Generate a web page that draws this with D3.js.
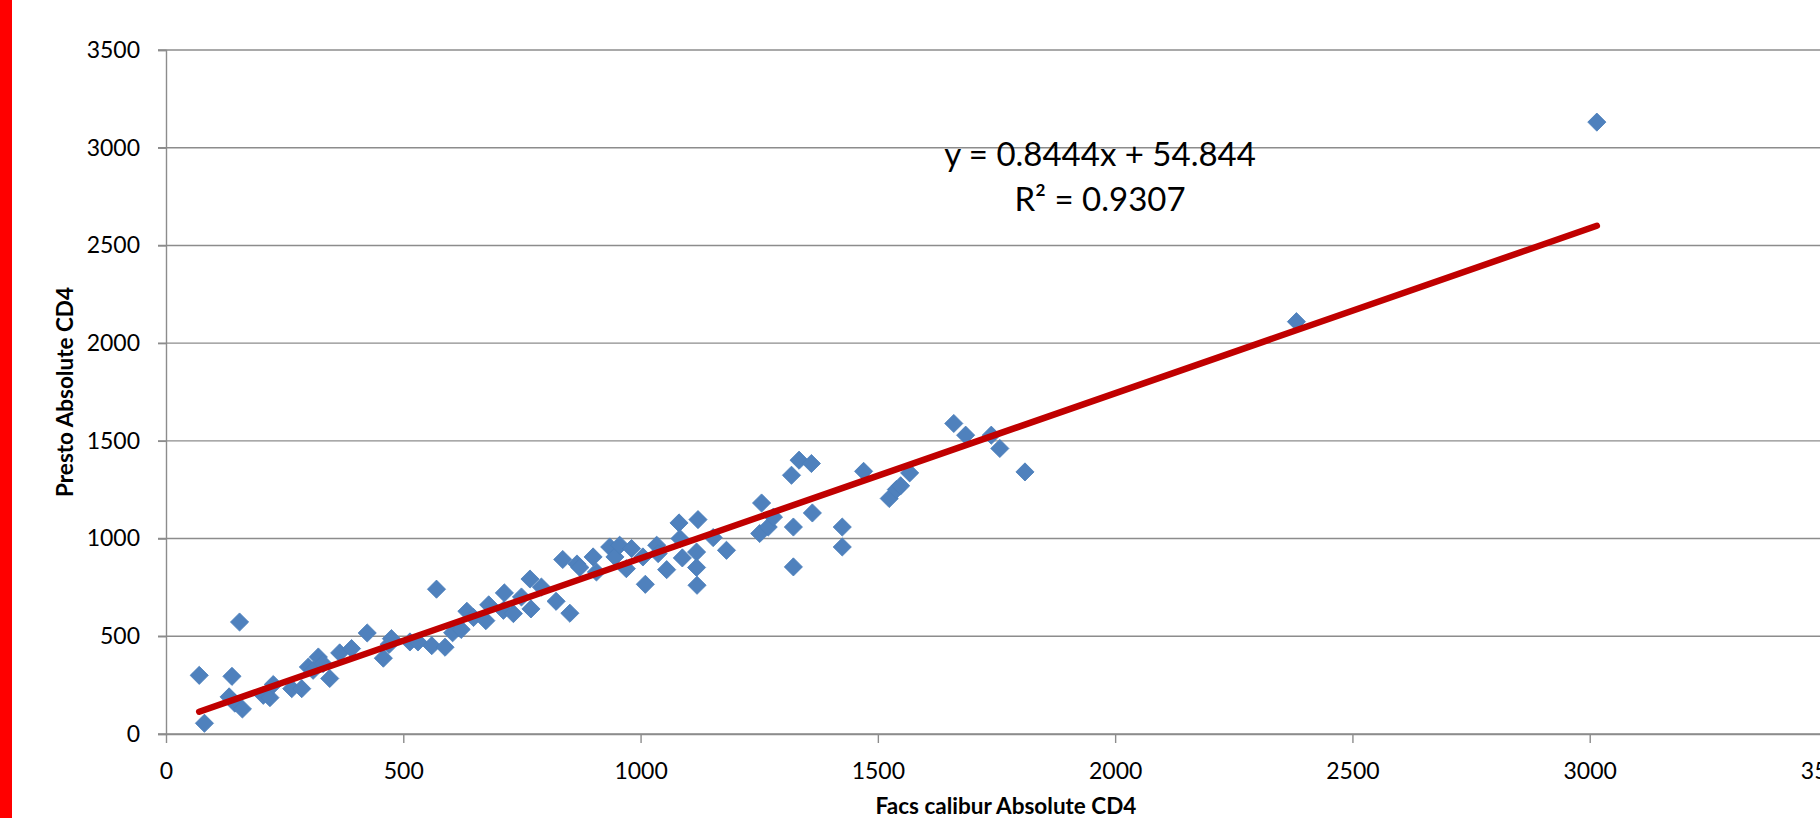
<!DOCTYPE html>
<html>
<head>
<meta charset="utf-8">
<script src="https://cdn.jsdelivr.net/npm/d3@7"></script>
<style>
  body { margin: 0; background: #fff; overflow: hidden; }
  text { font-family: Lato, "Open Sans", sans-serif; fill: #000; }
</style>
</head>
<body>
<div id="chart"></div>
<script>
// Facs calibur vs Presto absolute CD4 counts
const facs = [70, 81, 133, 139, 145, 155, 161, 205, 219, 226, 265, 286, 300, 310, 321, 331, 345, 366, 391, 424,
  458, 470, 475, 514, 531, 560, 570, 588, 604, 622, 634, 648, 674, 680, 711, 713, 732, 749, 767, 769,
  791, 822, 851, 836, 866, 872, 900, 907, 935, 946, 956, 970, 981, 1005, 1010, 1034, 1037, 1055, 1081, 1083,
  1088, 1121, 1118, 1118, 1119, 1153, 1181, 1255, 1251, 1269, 1280, 1322, 1322, 1318, 1334, 1360, 1362, 1425, 1425, 1470,
  1524, 1539, 1548, 1567, 1660, 1685, 1739, 1757, 1810, 2382, 3015];
const presto = [300, 55, 190, 295, 158, 573, 128, 198, 186, 253, 232, 232, 343, 326, 394, 360, 284, 415, 437, 517,
  388, 458, 488, 471, 471, 452, 741, 444, 518, 535, 628, 596, 580, 661, 633, 722, 616, 701, 793, 640,
  752, 679, 618, 893, 870, 852, 906, 829, 957, 906, 966, 846, 949, 906, 766, 966, 923, 841, 1080, 1000,
  901, 1097, 931, 852, 761, 1005, 940, 1182, 1026, 1059, 1110, 1059, 855, 1324, 1401, 1384, 1131, 1059, 957, 1344,
  1205, 1251, 1270, 1336, 1589, 1529, 1529, 1461, 1341, 2110, 3131];

const slope = 0.8444, intercept = 54.844;
const equationLines = ["y = 0.8444x + 54.844", "R² = 0.9307"];
const ticks = [0, 500, 1000, 1500, 2000, 2500, 3000, 3500];

const W = 1820, H = 818;
const margin = {top: 50, left: 166, bottom: 84};

const svg = d3.select("#chart").append("svg")
  .attr("width", W)
  .attr("height", H);

const x = d3.scaleLinear().domain([0, 3500]).range([margin.left, 1827]);
const y = d3.scaleLinear().domain([0, 3500]).range([H - margin.bottom, margin.top]);

// red strip on the left edge
svg.append("rect")
  .attr("x", 0).attr("y", 0)
  .attr("width", 12).attr("height", H)
  .attr("fill", "#ff0000");

// horizontal gridlines
svg.append("g")
  .selectAll("line")
  .data(ticks)
  .enter().append("line")
    .attr("x1", margin.left - 8)
    .attr("x2", W)
    .attr("y1", d => y(d))
    .attr("y2", d => y(d))
    .attr("stroke", "#8c8c8c")
    .attr("stroke-width", 1.4);

// y axis
const yAxis = svg.append("g")
  .attr("transform", "translate(" + margin.left + ",0)")
  .call(d3.axisLeft(y).tickValues(ticks).tickFormat(d3.format("d")).tickSize(8).tickPadding(18));
yAxis.select(".domain").attr("stroke", "#8c8c8c").attr("stroke-width", 1.4);
yAxis.selectAll(".tick line").attr("stroke", "#8c8c8c").attr("stroke-width", 1.4);
yAxis.selectAll("text").style("font-size", "23px").style("font-family", "Lato");

// x axis
const xAxis = svg.append("g")
  .attr("transform", "translate(0," + y(0) + ")")
  .call(d3.axisBottom(x).tickValues(ticks).tickFormat(d3.format("d")).tickSize(9).tickPadding(20).tickSizeOuter(0));
xAxis.select(".domain").attr("stroke", "#8c8c8c").attr("stroke-width", 1.4);
xAxis.selectAll(".tick line").attr("stroke", "#8c8c8c").attr("stroke-width", 1.4);
xAxis.selectAll("text").style("font-size", "23px").style("font-family", "Lato");

// points
const pts = facs.map((f, i) => ({f: f, p: presto[i]}));
svg.append("g")
  .selectAll("path")
  .data(pts)
  .enter().append("path")
    .attr("d", d3.symbol().type(d3.symbolSquare).size(165))
    .attr("transform", d => "translate(" + x(d.f) + "," + y(d.p) + ") rotate(45)")
    .attr("fill", "#4f81bd")
    .attr("stroke", "#4a7ebb")
    .attr("stroke-width", 0.8);

// linear trend line
const xMin = d3.min(facs), xMax = d3.max(facs);
svg.append("line")
  .attr("x1", x(xMin))
  .attr("y1", y(slope * xMin + intercept))
  .attr("x2", x(xMax))
  .attr("y2", y(slope * xMax + intercept))
  .attr("stroke", "#c00000")
  .attr("stroke-width", 6.5)
  .attr("stroke-linecap", "round");

// equation label
svg.append("g")
  .selectAll("text")
  .data(equationLines)
  .enter().append("text")
    .attr("x", 1100)
    .attr("y", (d, i) => 166 + i * 45)
    .attr("text-anchor", "middle")
    .style("font-size", "33px")
    .text(d => d);

// axis titles
svg.append("text")
  .attr("x", 1006)
  .attr("y", 814)
  .attr("text-anchor", "middle")
  .style("font-size", "22.5px")
  .style("font-weight", "bold")
  .text("Facs calibur Absolute CD4");

svg.append("text")
  .attr("transform", "translate(73,392) rotate(-90)")
  .attr("text-anchor", "middle")
  .style("font-size", "22.5px")
  .style("font-weight", "bold")
  .text("Presto Absolute CD4");
</script>
</body>
</html>
